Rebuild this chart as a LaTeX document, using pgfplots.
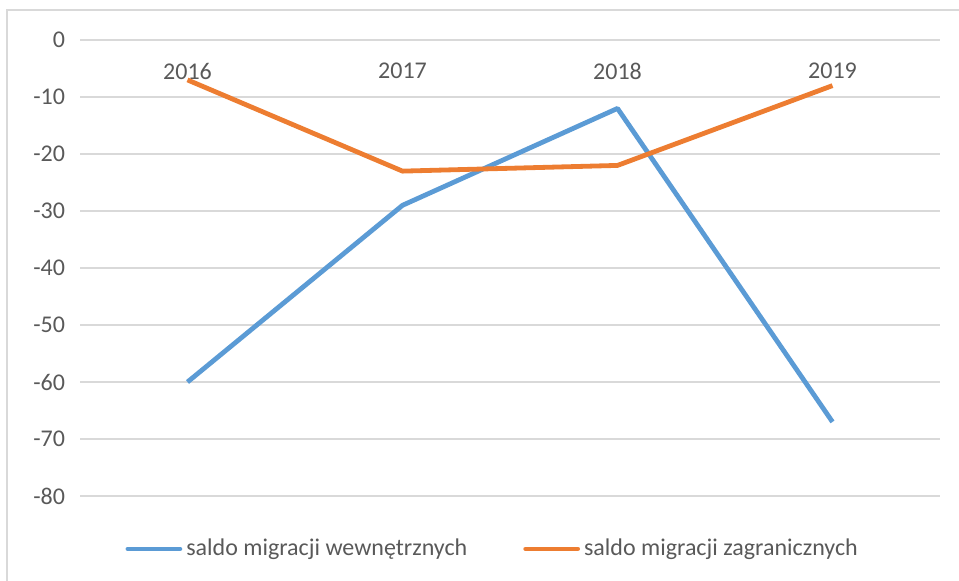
\documentclass[border=0pt]{standalone}
\usepackage{pgfplots}
\pgfplotsset{compat=1.18}
\usepackage{fontspec}
\setmainfont{Carlito}
\definecolor{exblue}{HTML}{5B9BD5}
\definecolor{exorange}{HTML}{ED7D31}
\definecolor{txtgray}{HTML}{595959}
\definecolor{gridgray}{HTML}{D9D9D9}
\begin{document}
\begin{tikzpicture}
\useasboundingbox (0,0) rectangle (479.5pt,-290pt);
% chart area border (cut by the screenshot on the right and bottom)
\draw[gridgray,line width=1pt] (3.5pt,-300pt) -- (3.5pt,-5pt) -- (490pt,-5pt);
\begin{axis}[scale only axis,width=430pt,height=228pt,
  at={(40pt,-248pt)},anchor=south west,
  xmin=-0.5,xmax=3.5,ymin=-80,ymax=0,
  axis line style={draw=none},
  xtick={0,1,2,3},xticklabels={2016,2017,2018,2019},
  xticklabel pos=upper,
  xticklabel style={anchor=north,yshift=-8pt},
  ytick={-80,-70,...,0},
  yticklabel style={anchor=east,xshift=-4pt},
  /pgf/number format/assume math mode=true,
  ymajorgrids,grid style={gridgray,line width=0.8pt},
  tick style={draw=none},
  tick label style={font=\fontsize{12}{14}\selectfont,txtgray},
  legend columns=2,
  legend style={at={(0.481,-0.116)},anchor=center,draw=none,fill=none,
    font=\fontsize{12}{14}\selectfont,text=txtgray,
    /tikz/every even column/.append style={column sep=26pt}},
  legend image code/.code={\draw[#1,line cap=round] (0pt,0pt) -- (26pt,0pt);},
  ]
\addplot[exblue,line width=2.4pt,line join=round] coordinates {(0,-60)(1,-29)(2,-12)(3,-67)};
\addlegendentry{saldo migracji wewnętrznych}
\addplot[exorange,line width=2.4pt,line join=round] coordinates {(0,-7)(1,-23)(2,-22)(3,-8)};
\addlegendentry{saldo migracji zagranicznych}
\end{axis}
\end{tikzpicture}
\end{document}
